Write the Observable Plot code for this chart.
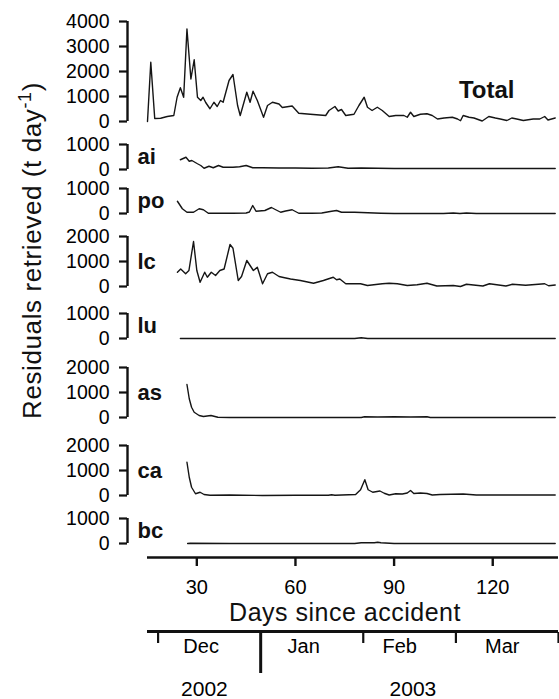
<!DOCTYPE html>
<html><head><meta charset="utf-8">
<script src="https://cdn.jsdelivr.net/npm/d3@7"></script>
<script src="https://cdn.jsdelivr.net/npm/@observablehq/plot@0.6"></script>
<style>
html,body{margin:0;padding:0;background:#fff;}
#chart svg{display:block;}
</style>
</head><body><div id="chart"></div>
<script>
// ---------- data ----------
const panelNames = ["Total", "ai", "po", "lc", "lu", "as", "ca", "bc"];
const panelMax   = [4000, 1000, 1000, 2000, 1000, 2000, 2000, 1000];
const xTicks = [30, 60, 90, 120];
const xDomain = [15, 140];
const yTickStep = 1000;

const totalDays = [15,16,17.2,19,21,23,24,25,26,27,28.2,29.2,30.2,31.2,31.9,32.7,34,35.2,36.2,37.2,38,39.8,41,42.4,43.2,45.2,46.2,47.1,48.4,50.3,51.5,53,55,56,58,59,61,64.5,69.2,70.2,72,73,74,75.3,77.8,79.3,80.9,81.9,83.3,84.9,86.4,88.5,90.5,93,94,95,96,98,100,101.6,103.2,105.2,107.7,109.3,110.2,111,112.8,114.3,116.8,118.8,120.8,122.3,124.3,125.8,127.3,129.3,132.3,134.3,135.8,136.8,139];
const totalValues = [0,2370,120,130,200,240,970,1350,970,3700,1700,2470,970,840,970,760,510,770,600,840,770,1640,1880,640,240,1170,770,1210,840,170,640,770,700,560,600,620,330,290,240,440,600,420,480,240,290,640,970,570,440,570,440,200,240,240,170,370,200,290,310,240,100,140,170,100,30,240,170,140,20,200,140,100,40,140,100,40,100,100,200,60,140];

const aiDays = [25,26.7,27.7,28.5,30.2,31.2,32.2,33.7,35,36.6,38,41,43,45,47,50,55,60,65,70,73,76,80,90,100,110,120,130,139];
const aiValues = [390,490,330,360,230,160,50,130,70,160,90,90,110,160,70,70,60,60,50,60,110,50,60,40,40,40,40,40,40];

const poDays = [24.1,25.6,27,29,30.7,32,33.5,37,41,45,46,47,48,50.7,52.7,54,55.5,57,59,61,65,68,71,72.5,74,78,82,86,90,100,105,108,110,112,115,120,130,139];
const poValues = [490,190,50,50,190,150,10,10,10,20,60,320,90,120,240,150,50,100,150,10,10,20,90,120,50,50,30,10,0,0,0,20,0,20,0,0,0,0];

const lcDays = [24.1,25.1,26.6,27.6,29,30,31,32.4,33.2,34.4,35.7,37,38.3,40.1,41,42.6,43.6,45.2,46.2,47.2,48.4,50,51.5,53,55,56,58.5,61.5,65.5,68.5,71.5,72.5,73.5,75.3,79.8,81.9,86.4,88.5,91,94,97,100,103,108,110.2,112,117,119,124,126,130,135.8,137,139];
const lcValues = [570,700,510,640,1800,640,170,570,370,570,440,640,700,1680,1530,240,400,1040,840,640,770,110,510,570,400,370,300,240,130,240,370,270,300,110,110,40,110,130,110,40,70,130,20,40,0,90,20,110,20,90,50,110,30,60];

const luDays = [25,60,78,80,82,139];
const luValues = [0,0,0,30,0,0];

const asDays = [27,27.7,28.4,29.2,30.7,32,34.3,36.4,40,60,80,81,85,90,95,100,101,120,139];
const asValues = [1320,750,410,210,80,40,80,10,0,0,0,30,20,30,20,30,0,0,0];

const caDays = [27,27.7,28.4,29.6,31,32.2,34,40,50,60,70,71,72,78.3,79.8,81.1,82.1,83.5,85.7,87,88.5,90.5,92.5,94,95,96,98,100,101.6,104,111,115,120,130,139];
const caValues = [1330,730,330,70,130,40,10,20,0,10,10,30,10,40,230,630,230,130,180,90,20,70,60,100,200,80,100,80,20,40,60,20,20,20,20];

const bcDays = [27.2,28,40,60,78,80,84,85,86,90,100,139];
const bcValues = [0,10,0,0,0,30,30,50,30,0,0,0];

const monthStarts = ["2002-12-01", "2003-02-01", "2003-03-01", "2003-04-01"];
const yearStart = ["2003-01-01"];
const monthLabelDates = ["2002-12-14", "2003-01-14", "2003-02-12", "2003-03-15"];
const yearLabelDates = ["2002-12-15", "2003-02-16"];
const accidentDate = "2002-11-12";

const yLabel = "Residuals retrieved (t day-1)";
const xLabel = "Days since accident";

// ---------- layout (spacing between stacked panels, in t/day units) ----------
const panelGapBelow = [920, 760, 920, 1080, 1160, 1120, 920, 560];
const FONT = "'Liberation Sans', Arial, Helvetica, sans-serif";

const seriesDays = [totalDays, aiDays, poDays, lcDays, luDays, asDays, caDays, bcDays];
const seriesValues = [totalValues, aiValues, poValues, lcValues, luValues, asValues, caValues, bcValues];

// stacked offsets, bottom-up
const offsets = new Array(panelNames.length);
for (let i = panelNames.length - 1; i >= 0; i--) {
  offsets[i] = i === panelNames.length - 1 ? panelGapBelow[i]
    : offsets[i + 1] + panelMax[i + 1] + panelGapBelow[i];
}
const yTop = offsets[0] + panelMax[0];

const panelRows = panelNames.map((name, i) => ({
  name, base: offsets[i], top: offsets[i] + panelMax[i], mid: offsets[i] + panelMax[i] / 2
}));

const rows = [];
panelNames.forEach((name, i) => {
  seriesDays[i].forEach((d, j) => rows.push({panel: name, day: d, y: offsets[i] + seriesValues[i][j]}));
});

const yTickVals = [];
const yTickLabel = new Map();
panelNames.forEach((name, i) => {
  for (let v = 0; v <= panelMax[i]; v += yTickStep) {
    yTickVals.push(offsets[i] + v);
    yTickLabel.set(offsets[i] + v, String(v));
  }
});

const main = Plot.plot({
  width: 559, height: 628,
  marginLeft: 147, marginRight: 1, marginTop: 21, marginBottom: 71,
  style: {fontFamily: FONT, color: "#000", background: "#fff", overflow: "visible"},
  x: {domain: xDomain, label: null},
  y: {domain: [0, yTop], label: null},
  marks: [
    Plot.ruleY([0], {strokeWidth: 2.6, stroke: "#111"}),
    Plot.axisX(xTicks, {tickSize: 9, tickPadding: 13, strokeWidth: 2.4, fontSize: 20, label: null, stroke: "#111"}),
    Plot.axisY(yTickVals, {anchor: "left", tickSize: 8, tickPadding: 10, strokeWidth: 2.2, fontSize: 19.5, dx: -20,
      tickFormat: v => yTickLabel.get(v), label: null, stroke: "#111"}),
    Plot.ruleX(panelRows, {x: () => xDomain[0], y1: "base", y2: "top", dx: -20, strokeWidth: 2.4, stroke: "#111"}),
    Plot.line(rows, {x: "day", y: "y", z: "panel", stroke: "#151515", strokeWidth: 1.4, strokeLinejoin: "round"}),
    Plot.text(panelRows.filter(d => d.name !== "Total"), {x: () => xDomain[0], y: "mid", text: "name", dx: -10,
      textAnchor: "start", fontWeight: "bold", fontSize: 22, fill: "#111"}),
    Plot.text(["Total"], {frameAnchor: "top-right", dx: -44, dy: 76, lineAnchor: "bottom", textAnchor: "end",
      fontWeight: "bold", fontSize: 24, fill: "#111"}),
    Plot.text([xLabel], {frameAnchor: "bottom", dx: -8, dy: 63, lineAnchor: "bottom", textAnchor: "middle", fontSize: 25, fill: "#111"}),
    Plot.text([yLabel], {frameAnchor: "left", rotate: -90, lineAnchor: "bottom", textAnchor: "middle", dx: -107, dy: -39, fontSize: 26, fill: "#111"})
  ]
});

// superscript for the unit
d3.select(main).selectAll("text").each(function() {
  if (this.textContent === yLabel) {
    const t = d3.select(this);
    t.text(null);
    t.append("tspan").text("Residuals retrieved (t day");
    t.append("tspan").attr("dy", "-10px").attr("font-size", "18px").text("-1");
    t.append("tspan").attr("dy", "10px").text(")");
    t.attr("letter-spacing", "0.6px");
  }
});
d3.select(main).selectAll("text").filter(function(){return this.textContent === xLabel;}).attr("letter-spacing", "0.5px");

const toDate = s => new Date(s + "T00:00:00Z");
const acc = toDate(accidentDate);
const dayToDate = d => new Date(acc.getTime() + d * 864e5);

const months = Plot.plot({
  width: 559, height: 71,
  marginLeft: 147, marginRight: 1, marginTop: 3, marginBottom: 67,
  style: {fontFamily: FONT, color: "#000", background: "#fff", overflow: "visible"},
  x: {type: "utc", domain: [dayToDate(xDomain[0] + 0.8), dayToDate(xDomain[1])], label: null},
  y: {domain: [0, 1], axis: null},
  marks: [
    Plot.ruleY([1], {strokeWidth: 2.8, stroke: "#111"}),
    Plot.axisX(monthStarts.map(toDate), {tickSize: 11, strokeWidth: 2.2, tickFormat: () => "", label: null, stroke: "#111"}),
    Plot.axisX(yearStart.map(toDate), {tickSize: 41, strokeWidth: 3, tickFormat: () => "", label: null, stroke: "#111"}),
    Plot.axisX(monthLabelDates.map(toDate), {tickSize: 0, tickPadding: 6, fontSize: 20, tickFormat: d3.utcFormat("%b"), label: null}),
    Plot.axisX(yearLabelDates.map(toDate), {tickSize: 0, tickPadding: 49, fontSize: 21, tickFormat: d3.utcFormat("%Y"), label: null})
  ]
});

document.getElementById("chart").append(main, months);
</script>
</body></html>
